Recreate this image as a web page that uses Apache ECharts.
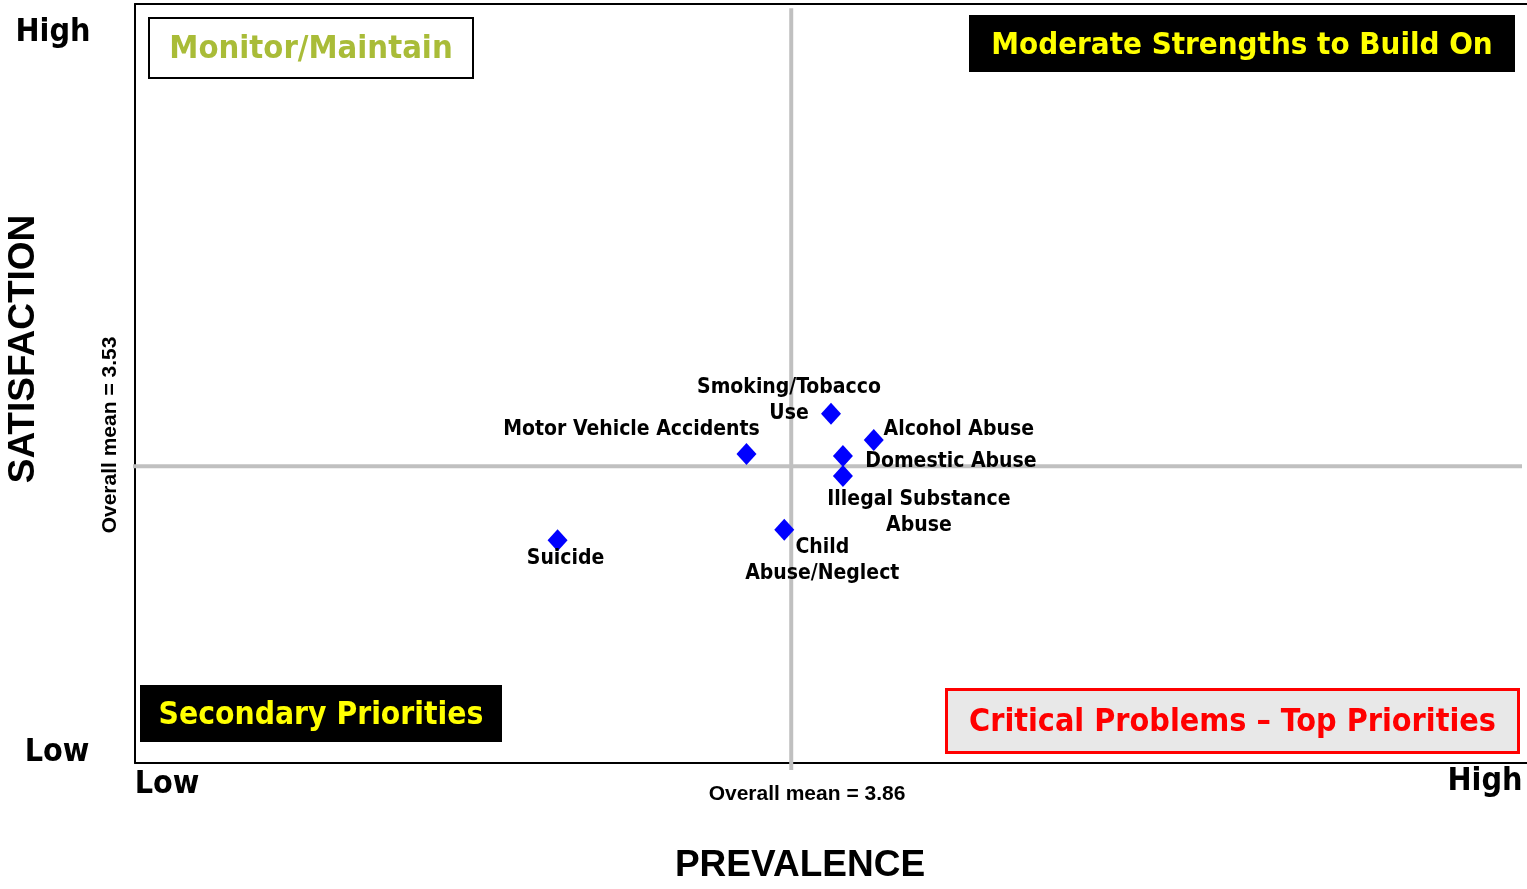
<!DOCTYPE html>
<html>
<head>
<meta charset="utf-8">
<script src="https://cdn.jsdelivr.net/npm/echarts@6/dist/echarts.min.js"></script>
<style>
  html, body { margin: 0; padding: 0; background: #fff; }
  #chart { width: 1527px; height: 889px; }
</style>
</head>
<body>
<div id="chart"></div>
<script>
// issue names, prevalence (x) and satisfaction (y) scores
const issues = ['Smoking/Tobacco\nUse', 'Alcohol Abuse', 'Motor Vehicle Accidents', 'Domestic Abuse',
  'Illegal Substance\nAbuse', 'Child\nAbuse/Neglect', 'Suicide'];
const prevalence = [3.90, 3.943, 3.815, 3.912, 3.912, 3.853, 3.625];
const satisfaction = [3.606, 3.568, 3.548, 3.545, 3.516, 3.438, 3.423];
// where each label sits relative to its marker
const labelOffsets = [[-42, -13], [85, -11], [-115, -24], [108, 6], [76, 37], [38, 31], [8, 18]];

const meanPrevalence = 3.86;
const meanSatisfaction = 3.53;
// extent of the drawn mean lines (slightly past the plot edges, as in the original)
const meanLineY = [4.194, 3.09];
const meanLineX = [3.198, 4.595];

const labelFont = '"DejaVu Sans Condensed", "DejaVu Sans", sans-serif';
const arial = '"Liberation Sans", Arial, sans-serif';

const chart = echarts.init(document.getElementById('chart'));

const points = issues.map((name, i) => ({
  name: name,
  value: [prevalence[i], satisfaction[i]],
  label: { offset: labelOffsets[i] }
}));

// quadrant boxes
function quadBox(x, y, w, h, fill, stroke, lw, text, color, size) {
  return {
    type: 'group',
    left: x, top: y,
    children: [
      { type: 'rect', shape: { x: 0, y: 0, width: w, height: h },
        style: { fill: fill, stroke: stroke, lineWidth: lw } },
      { type: 'text', x: w / 2, y: h / 2 + 2,
        style: { text: text, fill: color, font: 'bold ' + size + 'px ' + labelFont,
          textAlign: 'center', textVerticalAlign: 'middle' } }
    ]
  };
}

function plainText(x, y, text, font, rot) {
  return {
    type: 'text', x: x, y: y, rotation: rot || 0,
    style: { text: text, fill: '#000', font: font, textAlign: 'center', textVerticalAlign: 'middle' }
  };
}

function meanLine(data) {
  return {
    type: 'line',
    clip: false,
    silent: true,
    symbol: 'none',
    lineStyle: { color: '#c0c0c0', width: 4 },
    data: data,
    z: 1
  };
}

// bare axis: only the line, no ticks/labels
function frameAxis(min, max, position) {
  return {
    type: 'value', min: min, max: max, position: position,
    axisLine: { show: true, onZero: false, lineStyle: { color: '#000', width: 2 } },
    axisTick: { show: false }, axisLabel: { show: false }, splitLine: { show: false }
  };
}

chart.setOption({
  animation: false,
  backgroundColor: '#fff',
  // left, top and bottom frame only: the original has no right border
  grid: { left: 135, top: 4, right: 0, bottom: 126 },
  xAxis: [frameAxis(3.2, 4.6, 'bottom'), frameAxis(3.2, 4.6, 'top')],
  yAxis: frameAxis(3.1, 4.2, 'left'),
  series: [
    meanLine(meanLineY.map(y => [meanPrevalence, y])),
    meanLine(meanLineX.map(x => [x, meanSatisfaction])),
    {
      type: 'scatter',
      clip: false,
      symbol: 'diamond',
      symbolSize: [20, 22],
      itemStyle: { color: '#0000ff', opacity: 1 },
      label: {
        show: true,
        position: 'inside',
        formatter: '{b}',
        color: '#000',
        fontFamily: labelFont,
        fontWeight: 'bold',
        fontSize: 21,
        lineHeight: 26,
        align: 'center',
        verticalAlign: 'middle'
      },
      data: points,
      z: 3
    }
  ],
  graphic: [
    quadBox(148, 17, 324, 60, '#fff', '#000', 2, 'Monitor/Maintain', '#a9bc38', 32.5),
    quadBox(969, 15, 546, 57, '#000', null, 0, 'Moderate Strengths to Build On', '#ffff00', 31),
    quadBox(140, 685, 362, 57, '#000', null, 0, 'Secondary Priorities', '#ffff00', 31.5),
    quadBox(945, 688, 572, 63, '#e8e8e8', '#ff0000', 3, 'Critical Problems \u2013 Top Priorities', '#ff0000', 32),
    plainText(53, 33, 'High', 'bold 32px ' + labelFont),
    plainText(57, 753, 'Low', 'bold 32px ' + labelFont),
    plainText(167, 785, 'Low', 'bold 32px ' + labelFont),
    plainText(1485, 782, 'High', 'bold 32px ' + labelFont),
    plainText(807, 794, 'Overall mean = 3.86', 'bold 21px ' + arial),
    plainText(800, 866, 'PREVALENCE', 'bold 37px ' + arial),
    plainText(24, 349, 'SATISFACTION', 'bold 37px ' + arial, Math.PI / 2),
    plainText(110, 435, 'Overall mean = 3.53', 'bold 21px ' + arial, Math.PI / 2)
  ]
});
</script>
</body>
</html>
